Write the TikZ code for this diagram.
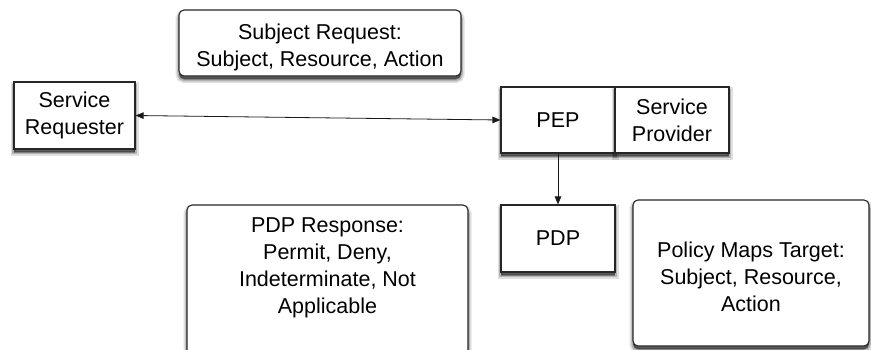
\documentclass[tikz,border=0pt]{standalone}
\usepackage{fontspec}
\setmainfont{Liberation Sans}
\usetikzlibrary{arrows.meta,shadows}
\tikzset{
  softshadow/.style={
    general shadow={shadow yshift=-3.5pt, fill=black, draw=black, line width=7pt, opacity=0.12},
    general shadow={shadow yshift=-3.5pt, fill=black, draw=black, line width=3.5pt, opacity=0.2},
    general shadow={shadow yshift=-3pt, fill=black, opacity=0.4}},
  box/.style={draw=black!85, line width=1.1pt, fill=white, inner sep=0pt,
    align=center, font=\fontsize{21.5}{27}\selectfont, softshadow},
  roundbox/.style={box, rounded corners=5pt},
  label/.style={inner sep=0pt, align=center, font=\fontsize{21.5}{27}\selectfont},
  conn/.style={line width=0.8pt, draw=black!90},
  tip/.style={-{Triangle[length=8pt,width=6.5pt]}},
  tips/.style={{Triangle[length=8pt,width=6.5pt]}-{Triangle[length=8pt,width=6.5pt]}}
}
\begin{document}
\begin{tikzpicture}[x=1pt,y=-1pt]
  \clip (0,0) rectangle (871,349);
  \fill[white] (0,0) rectangle (871,349);

  % request description
  \node[roundbox, minimum width=282, minimum height=66] (req) at (320,43) {};
  \node[label] (reqtext) at (320,47.5) {Subject Request:\\Subject, Resource, Action};

  % requester and provider with its enforcement point
  \node[box, minimum width=121, minimum height=67] (sr) at (74.5,115.5)
    {Service\\Requester};
  \node[box, minimum width=114, minimum height=66] (pep) at (558,120) {PEP};
  \node[box, minimum width=114, minimum height=66] (sp) at (672,120)
    {Service\\Provider};

  % decision point
  \node[box, minimum width=114, minimum height=67] (pdp) at (558,238.5) {PDP};

  % response description (runs past the lower edge)
  \node[roundbox, minimum width=281, minimum height=170] (resp) at (327.5,290) {};
  \node[label] (resptext) at (327.5,268)
    {PDP Response:\\Permit, Deny,\\Indeterminate, Not\\Applicable};

  % policy description
  \node[roundbox, minimum width=236, minimum height=146] (pol) at (751,273) {};
  \node[label] (poltext) at (751,277)
    {Policy Maps Target:\\Subject, Resource,\\Action};

  % connectors
  \draw[conn, tips] (sr.east) -- (pep.west);
  \draw[conn, tip] (pep.south) -- (pdp.north);
\end{tikzpicture}
\end{document}
